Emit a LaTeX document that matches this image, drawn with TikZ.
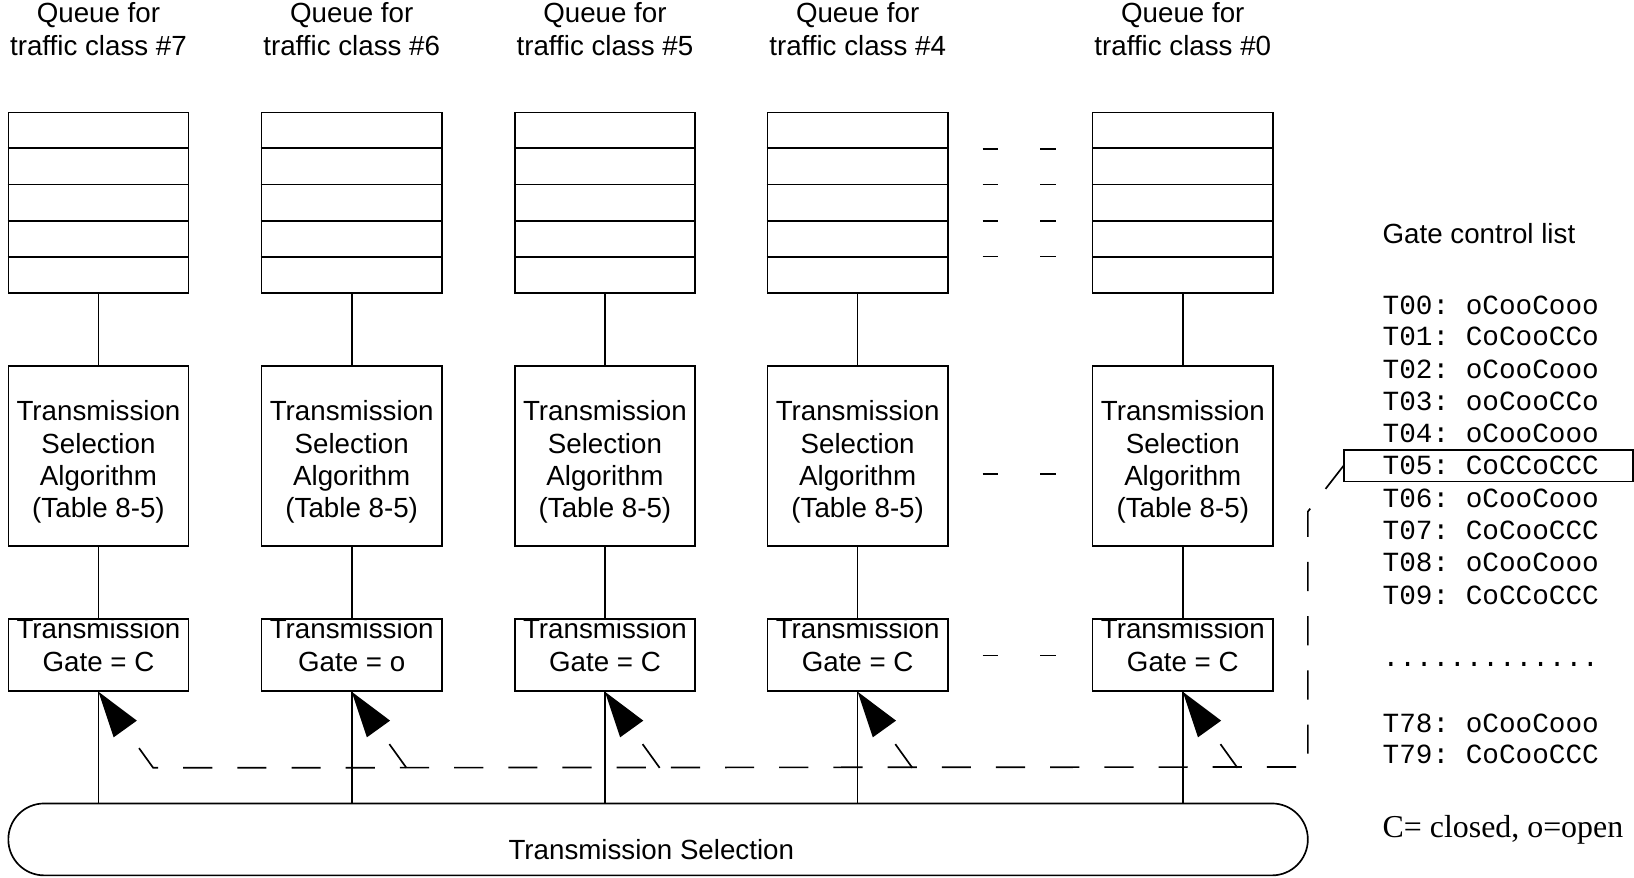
\documentclass[tikz,border=0pt]{standalone}
\usepackage{fontspec}
\setmainfont{Liberation Sans}
\setmonofont{Liberation Mono}
\newfontfamily\legendfont{Liberation Serif}
\usetikzlibrary{arrows.meta,calc}
\begin{document}
\begin{tikzpicture}[x=0.5pt,y=-0.5pt,line width=0.8pt,
  labelfont/.style={font=\fontsize{13.3}{15.5}\selectfont},
  queuebox/.style={draw,minimum width=86.5pt,minimum height=86.5pt,inner sep=0pt},
  algobox/.style={draw,minimum width=86.5pt,minimum height=86.5pt,inner sep=0pt},
  boxtext/.style={inner sep=0pt,align=center,labelfont},
  gatebox/.style={draw,minimum width=86.5pt,minimum height=34.5pt,inner sep=0pt},
  title/.style={inner sep=0pt,align=center,labelfont},
  ctrl/.style={draw,dash pattern=on 14pt off 12pt},
  ctrltip/.style={-{Triangle[length=22pt,width=13.5pt]}},
  listline/.style={inner sep=0pt,anchor=west,font=\ttfamily\fontsize{13.3}{15.5}\selectfont},
]
\useasboundingbox (0,0) rectangle (1568,842);

% one column per traffic class: queue, selection algorithm, gate
\foreach \x/\n/\g in {94.5/7/C, 337.5/6/o, 580.5/5/C, 823/4/C, 1135/0/C} {
  \node[title] (h\n) at (\x,28) {Queue for\\traffic class \#\n};
  \node[queuebox] (q\n) at (\x,194.5) {};
  \foreach \k in {1,2,3,4}
    \draw ($(q\n.north west)!\k/5!(q\n.south west)$) -- ($(q\n.north east)!\k/5!(q\n.south east)$);
  \node[algobox] (t\n) at (\x,437.5) {};
  \node[boxtext] (tl\n) at (\x,443.5) {Transmission\\Selection\\Algorithm\\(Table 8-5)};
  \node[gatebox] (g\n) at (\x,628.5) {};
  \begin{scope}
    \clip (g\n.north west) rectangle (g\n.south east);
    \node[boxtext] (gl\n) at (\x,619) {Transmission\\Gate = \g};
  \end{scope}
  \draw (q\n.south) -- (t\n.north);
  \draw (t\n.south) -- (g\n.north);
}

% elided classes between #4 and #0
\foreach \y in {143,177,212,246,455,629} {
  \draw (943,\y) -- (958,\y);
  \draw (998,\y) -- (1013,\y);
}

% transmission selection bus
\node[draw,minimum width=623.5pt,minimum height=34.5pt,rounded corners=17.2pt,inner sep=0pt] (bus) at (631.5,805.5) {};
\node[labelfont,inner sep=0pt] (buslabel) at (625,815) {Transmission Selection};
\foreach \n in {7,6,5,4,0}
  \draw (g\n.south) -- (g\n.south |- bus.north);

% gate control list
\node[labelfont,inner sep=0pt,anchor=west] (gcl) at (1326,224) {Gate control list};
\foreach \y/\t in {293/T00: oCooCooo, 323/T01: CoCooCCo, 354/T02: oCooCooo,
                   385/T03: ooCooCCo, 416/T04: oCooCooo, 447/T05: CoCCoCCC,
                   478/T06: oCooCooo, 509/T07: CoCooCCC, 540/T08: oCooCooo,
                   571/T09: CoCCoCCC, 694/T78: oCooCooo, 724/T79: CoCooCCC}
  \node[listline] at (1326,\y) {\t};
\node[listline] (gap) at (1326,638) {.............};
\node[draw,inner sep=0pt,minimum width=138.5pt,minimum height=15pt] (sel) at (1428.5,447) {};
\node[inner sep=0pt,anchor=base west,font=\legendfont\fontsize{15.3}{18}\selectfont] (legend) at (1326,804) {C= closed, o=open};

% gate state distribution from the active list entry
\coordinate (turn1) at (1255,491);
\coordinate (turn2) at (1255,736);
\draw[ctrl,ctrltip] (sel.west) -- (turn1) -- (turn2) -- ($(g7.south)+(52.5,73)$) -- (g7.south);
\foreach \n in {6,5,4,0}
  \draw[ctrl,ctrltip] ($(g\n.south)+(52.5,73)$) -- (g\n.south);
\end{tikzpicture}
\end{document}
